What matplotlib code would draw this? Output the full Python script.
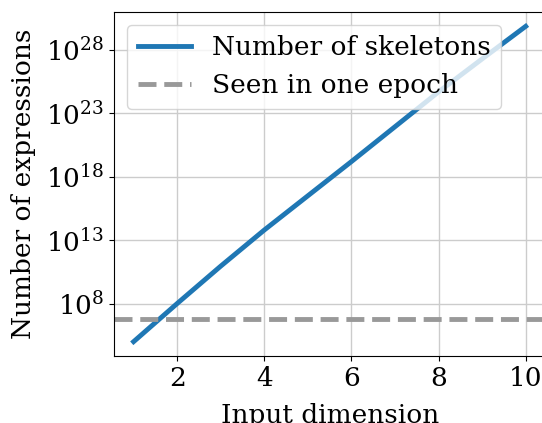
import numpy as np
import matplotlib
matplotlib.use("Agg")
import matplotlib.pyplot as plt

# values (log10 of counts)
input_dim = [1, 2, 3, 4, 5, 6, 7, 8, 9, 10]
log_skeletons = [4.99, 8.0, 10.95, 13.8, 16.5, 19.2, 21.95, 24.7, 27.3, 29.87]
seen_one_epoch = 5.6e6
ytick_exps = [8, 13, 18, 23, 28]

plt.rcParams["font.family"] = "DejaVu Serif"
plt.rcParams["mathtext.fontset"] = "dejavuserif"
plt.rcParams["font.size"] = 19

fig = plt.figure(figsize=(5.42, 4.23), dpi=100)
ax = fig.add_axes([0.2103, 0.1584, 0.7958, 0.8144])

ax.plot(input_dim, 10.0 ** np.array(log_skeletons), color="#1f77b4", linewidth=3.5,
        label="Number of skeletons")
ax.axhline(seen_one_epoch, color="#999999", linestyle="--", linewidth=3.5,
           label="Seen in one epoch")

ax.set_yscale("log")
ax.set_ylim(10 ** 3.86, 10 ** 31.04)
ax.set_xlim(0.55, 10.45)
ax.set_yticks([10.0 ** e for e in ytick_exps])
ax.set_yticklabels([f"$10^{{{e}}}$" for e in ytick_exps])
ax.yaxis.set_minor_locator(matplotlib.ticker.NullLocator())
ax.set_xticks([2, 4, 6, 8, 10])
ax.grid(True, color="#cccccc", linewidth=1)
ax.set_axisbelow(True)

ax.set_xlabel("Input dimension", labelpad=9)
ax.set_ylabel("Number of expressions", labelpad=7)
ax.legend(loc="upper left", handlelength=2.0)

fig.savefig("out.png", dpi=100)
